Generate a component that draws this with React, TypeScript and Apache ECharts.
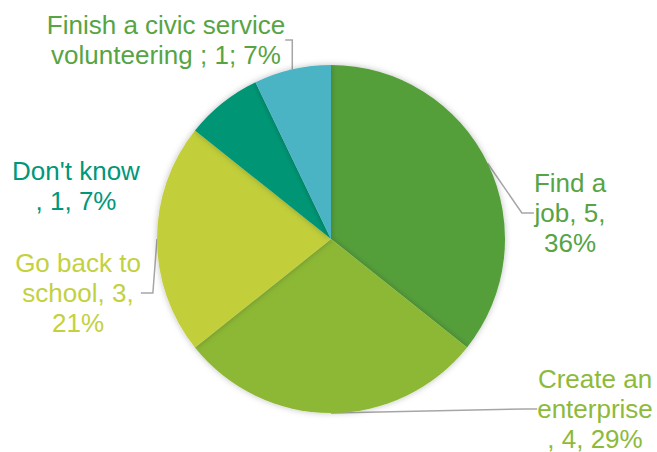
import React, { useEffect, useRef } from "react";
import * as echarts from "echarts";

const categories = [
  "Find a job",
  "Create an enterprise",
  "Go back to school",
  "Don't know",
  "Finish a civic service volunteering",
];
const values = [5, 4, 3, 1, 1];
const labelTemplates = [
  "Find a\njob, {v},\n{p}%",
  "Create an\nenterprise\n, {v}, {p}%",
  "Go back to\nschool, {v},\n{p}%",
  "Don't know\n, {v}, {p}%",
  "Finish a civic service\nvolunteering ; {v}; {p}%",
];
const sliceColors = ["#549F3A", "#8CB836", "#C2CF3A", "#009675", "#4BB4C4"];
const labelColors = ["#56A443", "#8DBA3A", "#C3D13F", "#00977A", "#57A444"];
const showLine = [true, true, true, false, true];
// label block centres (layout)
const labelPos: [number, number][] = [
  [570, 213],
  [595, 409],
  [78, 293],
  [76, 186],
  [166, 40],
];

export default function App() {
  const ref = useRef<HTMLDivElement>(null);
  useEffect(() => {
    document.body.style.margin = "0";
    const chart = echarts.init(ref.current!, null, { renderer: "svg" });
    const total = values.reduce((a, b) => a + b, 0);
    chart.setOption({
      animation: false,
      backgroundColor: "#ffffff",
      series: [
        {
          type: "pie",
          center: [331, 239],
          radius: 174,
          startAngle: 90,
          clockwise: true,
          avoidLabelOverlap: false,
          itemStyle: {
            shadowBlur: 6,
            shadowColor: "rgba(0,0,0,0.25)",
          },
          data: categories.map((name, i) => ({
            name,
            value: values[i],
            itemStyle: { color: sliceColors[i] },
            label: { color: labelColors[i] },
            labelLine: { show: showLine[i] },
          })),
          label: {
            show: true,
            position: "outside",
            fontFamily: "Liberation Sans, Arial, sans-serif",
            fontSize: 26,
            lineHeight: 30,
            align: "center",
            formatter: (p: any) => {
              const pct = Math.round((values[p.dataIndex] / total) * 100);
              return labelTemplates[p.dataIndex]
                .replace("{v}", String(values[p.dataIndex]))
                .replace("{p}", String(pct));
            },
          },
          labelLine: {
            show: true,
            length: 12,
            length2: 12,
            lineStyle: { color: "#A6A6A6", width: 1.5 },
          },
          labelLayout: (params: any) => ({
            x: labelPos[params.dataIndex][0],
            y: labelPos[params.dataIndex][1],
            align: "center",
            verticalAlign: "middle",
          }),
          emphasis: { disabled: true },
        },
      ],
    });
    return () => chart.dispose();
  }, []);
  return <div ref={ref} style={{ width: 657, height: 452 }} />;
}
